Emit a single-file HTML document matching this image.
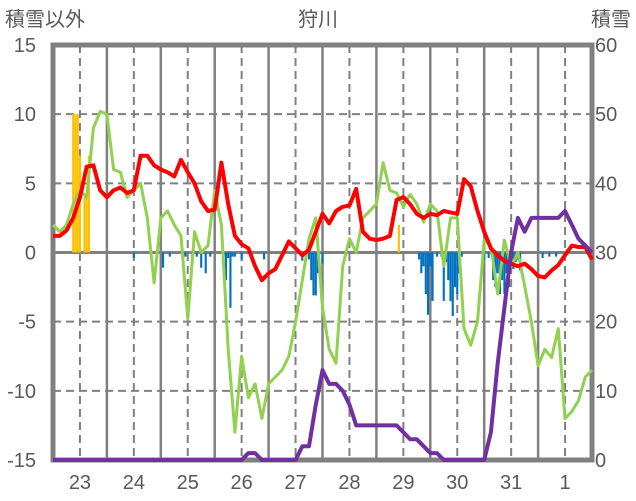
<!DOCTYPE html>
<html><head><meta charset="utf-8">
<style>
html,body{margin:0;padding:0;background:#fff;}
svg{display:block;font-family:"Liberation Sans","Noto Sans CJK JP",sans-serif;}
</style></head>
<body>
<svg id="chart" width="636" height="501" viewBox="0 0 636 501" xmlns="http://www.w3.org/2000/svg">
<text x="5" y="26" font-size="20" fill="#595959">積雪以外</text>
<text x="318" y="26" font-size="20" fill="#595959" text-anchor="middle">狩川</text>
<text x="631" y="26" font-size="20" fill="#595959" text-anchor="end">積雪</text>
<g id="grid"></g>
<g id="bars"></g>
<g id="frame"></g>
<g id="lines"></g>
<g id="labels"></g>
</svg>
<script>
// time grid: 3-hourly from day 22.5 to 32.5
const tStart = 22.5, tStep = 0.125;
const redValues = [1.2,1.2,1.6,2.5,4,6.2,6.3,4.5,4.0,4.5,4.7,4.3,4.5,7.0,7.0,6.3,6.0,5.8,5.5,6.7,5.8,5.0,3.7,3.0,3.1,6.5,3.5,1.2,0.6,0.3,-1.0,-2.0,-1.5,-1.2,-0.2,0.8,0.3,-0.2,0.2,1.5,2.8,2.1,3.0,3.3,3.4,4.6,1.5,1.0,0.9,1.0,1.2,3.8,4.0,3.5,2.8,2.5,2.8,2.7,3.0,2.9,2.8,5.3,4.8,3.0,1.5,0.3,-0.2,-0.6,-0.8,-1.0,-0.8,-1.2,-1.7,-1.8,-1.3,-0.9,-0.2,0.5,0.4,0.4,-0.5];
const greenValues = [2.0,1.5,2.0,3.5,4.5,4.0,9.0,10.2,10.0,6.0,5.8,4.0,4.5,5.0,2.5,-2.2,2.5,3.0,2.0,1.2,-4.8,1.5,0,0.5,4.5,2.0,-7,-13,-7.5,-10.5,-9.5,-12.0,-9.5,-9.0,-8.5,-7.5,-5.0,-2,1.0,2.5,-4,-7,-8,-1,1,0,2.5,3,3.5,6.5,4.5,4.3,3.3,4.2,3.5,2.2,3.5,3.0,-1,2.5,2.5,-5.5,-6.7,-5,0.9,0.5,-3,0.9,-1,0,-2.4,-5,-8.2,-7,-7.6,-5.5,-12,-11.5,-10.7,-9,-8.5];
const snowValues = [0,0,0,0,0,0,0,0,0,0,0,0,0,0,0,0,0,0,0,0,0,0,0,0,0,0,0,0,0,1,1,0,0,0,0,0,0,2,2,8,13,11,11,10,8,5,5,5,5,5,5,5,4,3,3,2,1,1,0,0,0,0,0,0,0,4,14,22,30,35,33,35,35,35,35,35,36,34,32,31,30];
// hourly bars: hours since day 22.5
const yellowHours = [9,10,11,12,14,15,16,154];
const yellowValues = [10,10,10,7,4,4,7,2];
const blueHours = [36,49,52,58,59,62,64,66,68,70,76,77,78,79,80,81,84,94,111,114,115,116,117,118,120,163,164,165,166,167,168,169,171,173,174,175,176,177,178,179,180,181,182,192,194,196,197,198,199,200,201,202,203,204,205,206,207,208,218,221,224];
const blueValues = [-0.4,-1.1,-0.3,-0.3,-0.3,-0.3,-0.3,-1.1,-1.5,-0.3,-0.3,-2,-0.4,-4,-0.3,-0.3,-0.5,-0.5,-0.6,-0.5,-2,-3.1,-3.1,-1.5,-0.8,-0.5,-1.5,-1,-3,-4.5,-1,-3.5,-0.3,-0.3,-3.5,-0.7,-2,-3.5,-4.6,-2.5,-3,-1.5,-0.3,-0.5,-0.4,-2,-2.5,-1.5,-3,-2,-3,-1.5,-2.5,-1,-1.2,-0.7,-0.5,-1.3,-0.4,-0.3,-0.3];
const leftTicks = [15,10,5,0,-5,-10,-15];
const rightTicks = [60,50,40,30,20,10,0];
const dayLabels = ["23","24","25","26","27","28","29","30","31","1"];

const X0=53, X1=592, Y0=45, Y1=460, T0=22.5, T1=32.5;
const xScale = t => X0 + (t-T0)/(T1-T0)*(X1-X0);
const yL = v => Y1 - (v+15)/30*(Y1-Y0);
const yR = v => Y1 - v/60*(Y1-Y0);
const NS="http://www.w3.org/2000/svg";
function mk(tag, attrs, parent){const e=document.createElementNS(NS,tag);for(const k in attrs)e.setAttribute(k,attrs[k]);parent.appendChild(e);return e;}
const grid=document.getElementById('grid'), bars=document.getElementById('bars'), lines=document.getElementById('lines'), frame=document.getElementById('frame'), labels=document.getElementById('labels');

[10,5,-5,-10].forEach(v=>{
  const l=mk('line',{x1:X0,x2:X1,y1:yL(v),y2:yL(v),stroke:'#808080','stroke-width':2,'stroke-dasharray':'8,5'},grid);
  
  
});
for(let d=0; d<10; d++){
  const xd=xScale(23+d);
  const l=mk('line',{x1:xd,x2:xd,y1:Y0,y2:Y1,stroke:'#808080','stroke-width':2,'stroke-dasharray':'8,5'},grid);
  
  
  if(d<9){
    const xs=xScale(23.5+d);
    const s=mk('line',{x1:xs,x2:xs,y1:Y0,y2:Y1,stroke:'#808080','stroke-width':2.5},grid);
    
    
  }
}
const bw=(X1-X0)/(240)*0.95;
function hx(h){return xScale(T0+h/24);}
yellowHours.forEach((h,i)=>{
  const v=yellowValues[i];
  const r=mk('rect',{x:hx(h)-bw/2,y:yL(v),width:bw,height:yL(0)-yL(v),fill:'#FFC000'},bars);
  
  
});
blueHours.forEach((h,i)=>{
  const v=blueValues[i];
  const r=mk('rect',{x:hx(h)-bw/2,y:yL(0),width:bw,height:yL(v)-yL(0),fill:'#0070C0'},bars);
  
  
});
const z=mk('line',{x1:X0,x2:X1,y1:yL(0),y2:yL(0),stroke:'#808080','stroke-width':3},grid);



const f=mk('rect',{x:X0,y:Y0,width:X1-X0,height:Y1-Y0,fill:'none',stroke:'#808080','stroke-width':5},frame);



function path(vals, ys){return vals.map((v,i)=>(i?'L':'M')+xScale(tStart+i*tStep).toFixed(1)+','+ys(v).toFixed(1)).join(' ');}
const g=mk('path',{d:path(greenValues,yL),fill:'none',stroke:'#92D050','stroke-width':3,'stroke-linejoin':'round'},lines);


const r=mk('path',{d:path(redValues,yL),fill:'none',stroke:'#FF0000','stroke-width':4,'stroke-linejoin':'round'},lines);


const p=mk('path',{d:path(snowValues,yR),fill:'none',stroke:'#7030A0','stroke-width':4,'stroke-linejoin':'round'},lines);



leftTicks.forEach(v=>{
  const t=mk('text',{x:36,y:yL(v)+7,'font-size':20,fill:'#595959','text-anchor':'end'},labels);
  t.textContent=v;
  
  
});
rightTicks.forEach(v=>{
  const t=mk('text',{x:595,y:yR(v)+7,'font-size':20,fill:'#595959'},labels);
  t.textContent=v;
  
  
});
dayLabels.forEach((s,i)=>{
  const t=mk('text',{x:xScale(23+i),y:489,'font-size':20,fill:'#595959','text-anchor':'middle'},labels);
  t.textContent=s;
  
  
});
</script>
</body></html>
